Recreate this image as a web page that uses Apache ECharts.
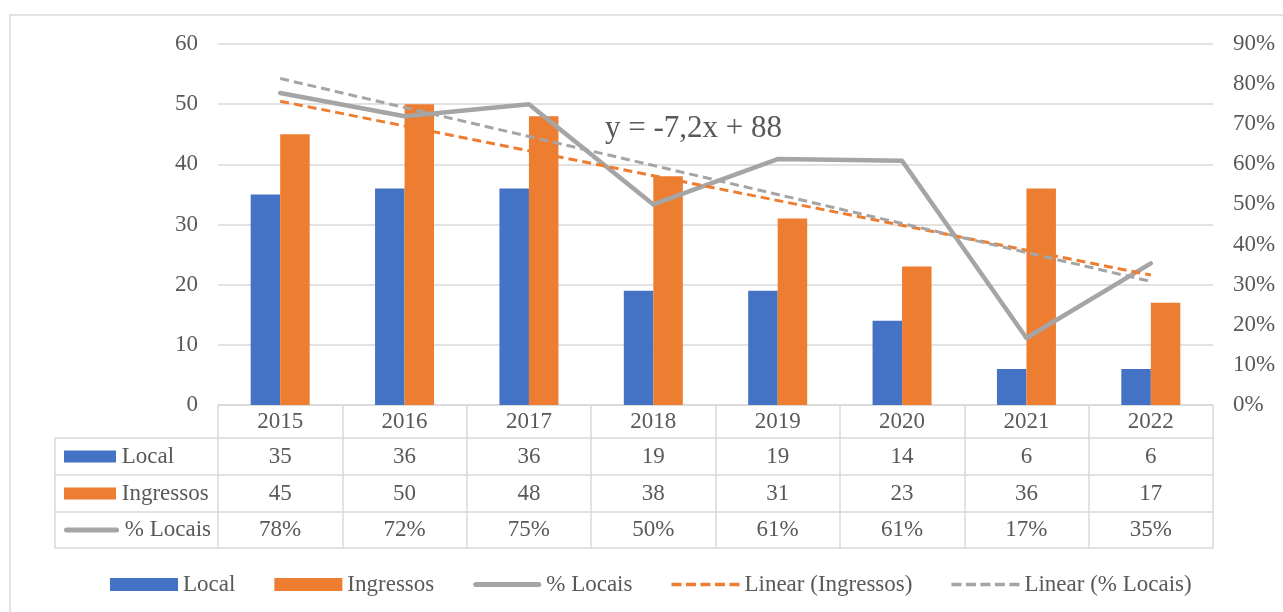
<!DOCTYPE html>
<html>
<head>
<meta charset="utf-8">
<script src="https://cdn.jsdelivr.net/npm/echarts@6/dist/echarts.min.js"></script>
<style>
  html, body { margin: 0; padding: 0; background: #fff; }
  #chart { width: 1283px; height: 612px; }
</style>
</head>
<body>
<div id="chart"></div>
<script>
var years = ['2015', '2016', '2017', '2018', '2019', '2020', '2021', '2022'];
var local = [35, 36, 36, 19, 19, 14, 6, 6];
var ingressos = [45, 50, 48, 38, 31, 23, 36, 17];
var pctLocais = [77.8, 72, 75, 50, 61.3, 60.9, 16.7, 35.3];
// trendline ends (first and last year)
var trendIngressos = [50.5, 21.6];
var trendPct = [81.4, 30.8];
var leftTicks = [0, 60, 10];
var rightTicks = [0, 90, 10];
var equation = 'y = -7,2x + 88';

var FONT = 'Liberation Serif';
var TXT = '#595959';
var LINE = '#D9D9D9';
var BLUE = '#4472C4', ORANGE = '#ED7D31', GRAY = '#A5A5A5';

// legend icons for the line series (solid rounded bar, dashed bar)
var ICON_SOLID = 'path://M2.5,0h63a2.5,2.5 0 0 1 0,5h-63a2.5,2.5 0 0 1 0,-5z';
var ICON_DASH = 'path://M0,0h10v3.5h-10z M14.5,0h10v3.5h-10z M29,0h10v3.5h-10z M43.5,0h10v3.5h-10z M58,0h10v3.5h-10z';

var myChart = echarts.init(document.getElementById('chart'));

var pctLabels = pctLocais.map(function (v) { return Math.round(v) + '%'; });

function rowAxis(data, offset, tickLen, margin) {
  return {
    type: 'category', gridIndex: 0, position: 'bottom', offset: offset,
    data: data,
    axisLine: { show: true, onZero: false, lineStyle: { color: LINE, width: 1.5 } },
    axisTick: { show: tickLen > 0, interval: 0, length: tickLen, lineStyle: { color: LINE, width: 1.5 } },
    axisLabel: { show: margin != null, interval: 0, margin: margin || 0, color: TXT,
      fontFamily: FONT, fontSize: 23, lineHeight: 26 },
    splitLine: { show: false }
  };
}

function headAxis(name, icon, offset, tickLen, margin) {
  return {
    type: 'category', gridIndex: 1, position: 'bottom', offset: offset,
    boundaryGap: false,
    data: [name, ''],
    axisLine: { show: true, onZero: false, lineStyle: { color: LINE, width: 1.5 } },
    axisTick: { show: tickLen > 0, interval: 0, length: tickLen, lineStyle: { color: LINE, width: 1.5 } },
    axisLabel: {
      show: !!name, interval: 0, margin: margin || 0, align: 'left',
      color: TXT, fontFamily: FONT, fontSize: 23, lineHeight: 26,
      formatter: function (v) { return v ? '{sp|}{' + icon + '|} ' + v : ''; },
      rich: {
        sp: { width: 9, height: 26 },
        bar1: { width: 52, height: 12, backgroundColor: BLUE },
        bar2: { width: 52, height: 12, backgroundColor: ORANGE },
        ln3: { width: 55, height: 5, backgroundColor: GRAY, borderRadius: 3 }
      }
    },
    splitLine: { show: false }
  };
}

var option = {
  backgroundColor: '#fff',
  textStyle: { fontFamily: FONT },
  grid: [
    { left: 218, right: 70, top: 44, bottom: 207 },
    { left: 55, width: 163, top: 44, bottom: 207 }
  ],
  legend: {
    left: 110, top: 573, padding: 0,
    itemWidth: 68, itemHeight: 13, itemGap: 39,
    textStyle: { color: TXT, fontFamily: FONT, fontSize: 23 },
    data: [
      { name: 'Local', icon: 'rect' },
      { name: 'Ingressos', icon: 'rect' },
      { name: '% Locais', icon: ICON_SOLID },
      { name: 'Linear (Ingressos)', icon: ICON_DASH },
      { name: 'Linear (% Locais)', icon: ICON_DASH }
    ]
  },
  xAxis: [
    rowAxis(years, 0, 33, 3.5),
    rowAxis(local, 33, 37, 5.5),
    rowAxis(ingressos, 70, 37, 5.5),
    rowAxis(pctLabels, 107, 36, 5),
    rowAxis(years, 143, 0, null),
    headAxis('Local', 'bar1', 33, 37, 5.5),
    headAxis('Ingressos', 'bar2', 70, 37, 5.5),
    headAxis('% Locais', 'ln3', 107, 36, 5),
    headAxis('', 'ln3', 143, 0, null)
  ],
  yAxis: [
    {
      type: 'value', gridIndex: 0, min: leftTicks[0], max: leftTicks[1], interval: leftTicks[2],
      axisLine: { show: false }, axisTick: { show: false },
      axisLabel: { margin: 20, color: TXT, fontFamily: FONT, fontSize: 23 },
      splitLine: { lineStyle: { color: LINE, width: 1.5 } }
    },
    {
      type: 'value', gridIndex: 0, position: 'right', min: rightTicks[0], max: rightTicks[1], interval: rightTicks[2],
      axisLine: { show: false }, axisTick: { show: false },
      axisLabel: { margin: 20, color: TXT, fontFamily: FONT, fontSize: 23, formatter: '{value}%' },
      splitLine: { show: false }
    },
    { type: 'value', gridIndex: 1, show: false }
  ],
  graphic: [
    {
      type: 'rect', silent: true,
      shape: { x: 10, y: 15, width: 1300, height: 700 },
      style: { fill: 'none', stroke: LINE, lineWidth: 1.5 }
    },
    {
      type: 'text', left: 605, top: 113, silent: true, z: 100,
      style: { text: equation, fill: TXT, font: '31px "Liberation Serif"' }
    }
  ],
  series: [
    {
      name: 'Local', type: 'bar', xAxisIndex: 0, yAxisIndex: 0,
      barWidth: 29.5, barGap: '0%',
      itemStyle: { color: BLUE },
      data: local
    },
    {
      name: 'Ingressos', type: 'bar', xAxisIndex: 0, yAxisIndex: 0,
      barWidth: 29.5, barGap: '0%',
      itemStyle: { color: ORANGE },
      data: ingressos
    },
    {
      name: '% Locais', type: 'line', xAxisIndex: 0, yAxisIndex: 1,
      symbol: 'none', z: 3,
      lineStyle: { color: GRAY, width: 4.5, cap: 'round', join: 'round' },
      itemStyle: { color: GRAY },
      data: pctLocais
    },
    {
      name: 'Linear (Ingressos)', type: 'line', xAxisIndex: 0, yAxisIndex: 0,
      symbol: 'none', z: 4,
      lineStyle: { color: ORANGE, width: 3, type: [9, 5] },
      itemStyle: { color: ORANGE },
      data: [[years[0], trendIngressos[0]], [years[years.length - 1], trendIngressos[1]]]
    },
    {
      name: 'Linear (% Locais)', type: 'line', xAxisIndex: 0, yAxisIndex: 1,
      symbol: 'none', z: 4,
      lineStyle: { color: GRAY, width: 3, type: [9, 5] },
      itemStyle: { color: GRAY },
      data: [[years[0], trendPct[0]], [years[years.length - 1], trendPct[1]]]
    }
  ]
};

myChart.setOption(option);
</script>
</body>
</html>
